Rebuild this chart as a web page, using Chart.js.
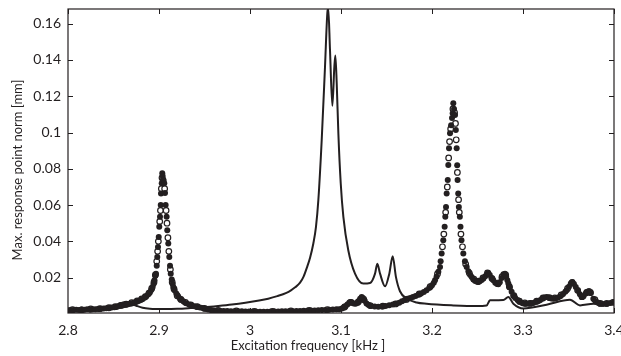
<!DOCTYPE html>
<html>
<head>
<meta charset="utf-8">
<script src="https://cdn.jsdelivr.net/npm/chart.js@4.4.1/dist/chart.umd.min.js"></script>
<style>
  html, body { margin: 0; padding: 0; background: #fff; }
  #wrap { width: 621px; height: 356px; }
</style>
</head>
<body>
<div id="wrap"><canvas id="c" width="621" height="356"></canvas></div>
<script>
// tick labels and axis titles
var xTicks = [2.8, 2.9, 3.0, 3.1, 3.2, 3.3, 3.4];
var yTicks = [0.02, 0.04, 0.06, 0.08, 0.1, 0.12, 0.14, 0.16];
var xTitle = 'Excitation frequency [kHz ]';
var yTitle = 'Max. response point norm [mm]';

// solid line
var lineX = [2.800, 2.815, 2.830, 2.840, 2.850, 2.857, 2.862, 2.868, 2.875, 2.882, 2.890, 2.905,
  2.920, 2.935, 2.950, 2.965, 2.980, 2.995, 3.010, 3.020, 3.030, 3.040, 3.045, 3.050, 3.055, 3.059,
  3.0625, 3.066, 3.0696, 3.0725, 3.0751, 3.0788, 3.0824, 3.0850, 3.0860, 3.0879, 3.0905, 3.0927, 3.0938, 3.0953,
  3.0971, 3.0997, 3.1026, 3.1080, 3.1154, 3.1245, 3.1319, 3.1374, 3.1399, 3.1429, 3.1484, 3.1531,
  3.1568, 3.1604, 3.1648, 3.1722, 3.1832, 3.1940, 3.2234, 3.2490, 3.2600, 3.2637, 3.2784, 3.2839,
  3.2894, 3.3004, 3.3260, 3.3516, 3.3626, 3.3773, 3.3919, 3.4000];
var lineY = [0.0015, 0.0020, 0.0026, 0.0033, 0.0045, 0.0058, 0.0064, 0.0058, 0.0045, 0.0034, 0.0029, 0.0027,
  0.0028, 0.0032, 0.0037, 0.0044, 0.0052, 0.0062, 0.0074, 0.0084, 0.0098, 0.0116, 0.0130, 0.0148, 0.0172, 0.0207,
  0.0255, 0.0310, 0.0388, 0.0480, 0.0627, 0.0959, 0.1360, 0.1660, 0.1685, 0.1456, 0.1147, 0.1364, 0.1425, 0.1270,
  0.0996, 0.0720, 0.0535, 0.0351, 0.0222, 0.0167, 0.0170, 0.0222, 0.0277, 0.0222, 0.0152, 0.0222,
  0.0318, 0.0203, 0.0125, 0.0085, 0.0063, 0.0056, 0.0047, 0.0043, 0.0046, 0.0075, 0.0076, 0.0093,
  0.0056, 0.0030, 0.0051, 0.0078, 0.0047, 0.0056, 0.0047, 0.0065];

// filled dot markers
var dotX = [2.800, 2.803, 2.806, 2.809, 2.812, 2.815, 2.818, 2.821, 2.824, 2.827, 2.830, 2.833, 2.836,
  2.839, 2.842, 2.845, 2.848, 2.851, 2.854, 2.857, 2.860, 2.862, 2.864, 2.866, 2.868, 2.870, 2.872,
  2.874, 2.876, 2.878, 2.880, 2.882, 2.884, 2.886, 2.888, 2.890, 2.8915, 2.893, 2.894, 2.895, 2.896,
  2.8967, 2.8975, 2.8981, 2.8989, 2.8997, 2.9003, 2.9011, 2.9019, 2.9022, 2.9030, 2.9036, 2.9040,
  2.9048, 2.9058, 2.9066, 2.9073, 2.9084, 2.9091, 2.9102, 2.9113, 2.9121, 2.9129, 2.9140, 2.9150,
  2.9157, 2.917, 2.919, 2.921, 2.923, 2.925, 2.927, 2.930, 2.933, 2.936, 2.939, 2.942, 2.945, 2.948,
  2.951, 2.954, 2.957, 2.960, 2.963, 2.967, 2.971, 2.975, 2.979, 2.983, 2.987, 2.991, 2.995, 2.999,
  3.003, 3.007, 3.011, 3.015, 3.019, 3.023, 3.027, 3.031, 3.035, 3.039, 3.043, 3.047, 3.051, 3.055,
  3.059, 3.063, 3.067, 3.071, 3.075, 3.079, 3.083, 3.087, 3.091, 3.095, 3.098, 3.101, 3.103, 3.105,
  3.107, 3.109, 3.110, 3.112, 3.114, 3.116, 3.118, 3.120, 3.121, 3.1227, 3.124, 3.126, 3.128, 3.130,
  3.133, 3.137, 3.141, 3.145, 3.149, 3.153, 3.157, 3.161, 3.164, 3.167, 3.170, 3.173, 3.176, 3.179,
  3.182, 3.185, 3.188, 3.191, 3.194, 3.197, 3.200, 3.202, 3.2033, 3.205, 3.207, 3.2088, 3.2095,
  3.2106, 3.2124, 3.2139, 3.2146, 3.2154, 3.2161, 3.2173, 3.2179, 3.2187, 3.2198, 3.2210, 3.2220,
  3.2227, 3.2234, 3.2242, 3.2253, 3.2262, 3.2271, 3.2277, 3.2281, 3.2288, 3.2295, 3.2306, 3.2313,
  3.2324, 3.2344, 3.2362, 3.2381, 3.2400, 3.2420, 3.2436, 3.2455, 3.2475, 3.2495, 3.2509, 3.2525,
  3.2545, 3.2564, 3.2585, 3.2605, 3.2619, 3.2635, 3.2655, 3.2674, 3.2695, 3.2715, 3.2729, 3.2745,
  3.2765, 3.2785, 3.2802, 3.2815, 3.2828, 3.2839, 3.2855, 3.2875, 3.2894, 3.2915, 3.2940, 3.2967,
  3.2995, 3.3020, 3.3040, 3.3065, 3.3090, 3.3113, 3.3140, 3.3165, 3.3187, 3.3210, 3.3235, 3.3260,
  3.3285, 3.3310, 3.3333, 3.3360, 3.3385, 3.3410, 3.3440, 3.3465, 3.3480, 3.3505, 3.3525, 3.3542,
  3.3560, 3.3580, 3.3605, 3.3625, 3.3645, 3.3665, 3.3690, 3.3710, 3.3725, 3.3745, 3.3773, 3.3800,
  3.3825, 3.3846, 3.3880, 3.3920, 3.3960, 3.4000];
var dotY = [0.0020, 0.0022, 0.0021, 0.0023, 0.0022, 0.0024, 0.0023, 0.0025, 0.0024, 0.0026, 0.0025, 0.0027, 0.0028,
  0.0030, 0.0031, 0.0033, 0.0035, 0.0037, 0.0040, 0.0043, 0.0047, 0.0049, 0.0051, 0.0053, 0.0056, 0.0058, 0.0061,
  0.0064, 0.0068, 0.0072, 0.0077, 0.0082, 0.0089, 0.0097, 0.0107, 0.0120, 0.0132, 0.0148, 0.0165, 0.0185, 0.0210,
  0.0222, 0.0265, 0.0314, 0.0369, 0.0424, 0.0480, 0.0535, 0.0600, 0.0664, 0.0720, 0.0775, 0.0760,
  0.0740, 0.0720, 0.0666, 0.0600, 0.0535, 0.0461, 0.0388, 0.0314, 0.0265, 0.0222, 0.0190, 0.0165,
  0.0148, 0.0130, 0.0112, 0.0096, 0.0085, 0.0076, 0.0068, 0.0059, 0.0052, 0.0046, 0.0042, 0.0039, 0.0036, 0.0032,
  0.0028, 0.0024, 0.0021, 0.0019, 0.0018, 0.0017, 0.0016, 0.0016, 0.0015, 0.0015, 0.0014, 0.0014, 0.0013, 0.0013,
  0.0013, 0.0012, 0.0012, 0.0012, 0.0012, 0.0013, 0.0013, 0.0013, 0.0014, 0.0014, 0.0015, 0.0015, 0.0016, 0.0016,
  0.0017, 0.0018, 0.0019, 0.0019, 0.0020, 0.0021, 0.0022, 0.0023, 0.0024, 0.0025, 0.0026, 0.0030, 0.0035, 0.0042,
  0.0052, 0.0062, 0.0066, 0.0063, 0.0058, 0.0056, 0.0060, 0.0072, 0.0083, 0.0093, 0.0088, 0.0072, 0.0058, 0.0050,
  0.0043, 0.0041, 0.0040, 0.0041, 0.0044, 0.0048, 0.0052, 0.0056, 0.0062, 0.0070, 0.0077, 0.0083, 0.0088, 0.0093,
  0.0099, 0.0106, 0.0113, 0.0121, 0.0130, 0.0143, 0.0158, 0.0172, 0.0185, 0.0205, 0.0232, 0.0259, 0.0290,
  0.0333, 0.0406, 0.0480, 0.0535, 0.0590, 0.0664, 0.0738, 0.0821, 0.0913, 0.0996, 0.1040, 0.1080,
  0.1106, 0.1162, 0.1130, 0.1097, 0.1014, 0.0913, 0.0820, 0.0738, 0.0664, 0.0590, 0.0535, 0.0480,
  0.0406, 0.0333, 0.0290, 0.0259, 0.0235, 0.0215, 0.0203, 0.0190, 0.0182, 0.0177, 0.0176, 0.0180,
  0.0187, 0.0195, 0.0208, 0.0220, 0.0225, 0.0215, 0.0198, 0.0185, 0.0172, 0.0165, 0.0163, 0.0175,
  0.0198, 0.0218, 0.0222, 0.0205, 0.0185, 0.0167, 0.0145, 0.0122, 0.0102, 0.0088, 0.0076, 0.0065,
  0.0059, 0.0056, 0.0056, 0.0057, 0.0059, 0.0060, 0.0065, 0.0070, 0.0075, 0.0083, 0.0090, 0.0093,
  0.0089, 0.0085, 0.0084, 0.0087, 0.0091, 0.0098, 0.0110, 0.0122, 0.0130, 0.0150, 0.0168, 0.0176,
  0.0165, 0.0148, 0.0128, 0.0108, 0.0093, 0.0098, 0.0112, 0.0122, 0.0126, 0.0115, 0.0084, 0.0070,
  0.0062, 0.0056, 0.0054, 0.0056, 0.0060, 0.0065];

// open circle markers
var ringX = [2.805, 2.815, 2.825, 2.835, 2.845, 2.852, 2.858, 2.864, 2.870, 2.876, 2.881, 2.885, 2.889,
  2.892, 2.8945, 2.8960, 2.8975, 2.8985, 2.8993, 2.9008, 2.9016, 2.9026, 2.9033, 2.9045, 2.9062, 2.9078,
  2.9088, 2.9098, 2.9108, 2.9125, 2.9145, 2.9165, 2.920, 2.924, 2.929, 2.935, 2.942, 2.950, 2.965, 2.985,
  3.005, 3.025, 3.045, 3.065, 3.085, 3.104, 3.111, 3.119, 3.125, 3.132, 3.146, 3.160, 3.172, 3.186, 3.198,
  3.206, 3.2115, 3.2130, 3.2150, 3.2168, 3.2183, 3.2193, 3.2205, 3.2230, 3.2248, 3.2258, 3.2266, 3.2279,
  3.2292, 3.2300, 3.2318, 3.2335, 3.2370, 3.2410, 3.2460, 3.2510, 3.2560, 3.2610, 3.2660, 3.2720, 3.2770,
  3.2810, 3.2850, 3.2900, 3.2960, 3.3020, 3.3080, 3.3150, 3.3220, 3.3290, 3.3350, 3.3420, 3.3490, 3.3540,
  3.3600, 3.3650, 3.3700, 3.3740, 3.3790, 3.3850, 3.3920, 3.3990];
var ringY = [0.0024, 0.0022, 0.0027, 0.0029, 0.0034, 0.0040, 0.0047, 0.0054, 0.0062, 0.0072, 0.0083, 0.0095, 0.0115,
  0.0140, 0.0175, 0.0215, 0.0290, 0.0345, 0.0400, 0.0510, 0.0570, 0.0690, 0.0750, 0.0735, 0.0690, 0.0570,
  0.0500, 0.0420, 0.0345, 0.0245, 0.0175, 0.0138, 0.0100, 0.0080, 0.0064, 0.0050, 0.0040, 0.0030, 0.0019, 0.0016,
  0.0014, 0.0014, 0.0016, 0.0019, 0.0024, 0.0038, 0.0064, 0.0066, 0.0080, 0.0046, 0.0043, 0.0055, 0.0080, 0.0110, 0.0150,
  0.0220, 0.0370, 0.0440, 0.0560, 0.0700, 0.0860, 0.0950, 0.1020, 0.1130, 0.1110, 0.1050, 0.0960, 0.0780,
  0.0630, 0.0560, 0.0440, 0.0370, 0.0275, 0.0225, 0.0192, 0.0180, 0.0198, 0.0226, 0.0195, 0.0170, 0.0205,
  0.0215, 0.0150, 0.0100, 0.0070, 0.0060, 0.0058, 0.0070, 0.0088, 0.0090, 0.0088, 0.0105, 0.0140, 0.0172,
  0.0130, 0.0095, 0.0118, 0.0118, 0.0078, 0.0058, 0.0058, 0.0064];

var ink = '#231f20';
var face = 'Lato';

function pts(xs, ys) {
  return xs.map(function (x, i) { return { x: x, y: ys[i] }; });
}

function fmt(v) {
  return String(Number(v.toFixed(2)));
}

function noPad(s) {
  s.paddingLeft = 0; s.paddingRight = 0; s.paddingTop = 0; s.paddingBottom = 0;
}

// MATLAB style box, inward ticks and the axis titles
var boxPlugin = {
  id: 'box',
  afterDraw: function (chart) {
    var ctx = chart.ctx, a = chart.chartArea;
    var sx = chart.scales.x, sy = chart.scales.y;
    var len = 5;
    ctx.save();
    ctx.strokeStyle = ink;
    ctx.lineWidth = 1;
    ctx.beginPath();
    xTicks.forEach(function (t) {
      var px = Math.round(sx.getPixelForValue(t)) + 0.5;
      ctx.moveTo(px, a.bottom); ctx.lineTo(px, a.bottom - len);
      ctx.moveTo(px, a.top); ctx.lineTo(px, a.top + len);
    });
    yTicks.forEach(function (t) {
      var py = Math.round(sy.getPixelForValue(t)) + 0.5;
      ctx.moveTo(a.left, py); ctx.lineTo(a.left + len, py);
      ctx.moveTo(a.right, py); ctx.lineTo(a.right - len, py);
    });
    ctx.stroke();
    ctx.lineWidth = 1.2;
    ctx.strokeRect(a.left, a.top, a.right - a.left, a.bottom - a.top);

    ctx.fillStyle = ink;
    ctx.font = '13px ' + face;
    ctx.textAlign = 'center';
    ctx.textBaseline = 'middle';
    ctx.fillText(xTitle, 308, 346);
    ctx.translate(18, 170);
    ctx.rotate(-Math.PI / 2);
    ctx.fillText(yTitle, 0, 0);
    ctx.restore();
  }
};

new Chart(document.getElementById('c'), {
  type: 'scatter',
  data: {
    datasets: [
      {
        label: 'response',
        data: pts(lineX, lineY),
        showLine: true,
        cubicInterpolationMode: 'monotone',
        borderColor: ink,
        borderWidth: 2,
        pointRadius: 0,
        order: 1
      },
      {
        label: 'dots',
        data: pts(dotX, dotY),
        showLine: false,
        pointRadius: 3,
        pointBackgroundColor: ink,
        pointBorderColor: ink,
        pointBorderWidth: 0,
        order: 2
      },
      {
        label: 'rings',
        data: pts(ringX, ringY),
        showLine: false,
        pointRadius: 2.8,
        pointBackgroundColor: '#ffffff',
        pointBorderColor: ink,
        pointBorderWidth: 1.2,
        order: 3
      }
    ]
  },
  options: {
    responsive: false,
    animation: false,
    events: [],
    layout: { padding: { top: 9, right: 7, left: 0, bottom: 0 } },
    plugins: { legend: { display: false }, tooltip: { enabled: false } },
    scales: {
      x: {
        type: 'linear',
        min: 2.8,
        max: 3.4,
        afterBuildTicks: function (s) { s.ticks = xTicks.map(function (v) { return { value: v }; }); },
        afterFit: function (s) { s.height = 43; noPad(s); },
        grid: { display: false, drawTicks: false },
        border: { display: false },
        ticks: { color: ink, padding: 9, font: { family: face, size: 14 }, callback: fmt, maxRotation: 0 },
        title: { display: false }
      },
      y: {
        type: 'linear',
        min: 0.0005,
        max: 0.1681,
        afterBuildTicks: function (s) { s.ticks = yTicks.map(function (v) { return { value: v }; }); },
        afterFit: function (s) { s.width = 68; noPad(s); },
        grid: { display: false, drawTicks: false },
        border: { display: false },
        ticks: { color: ink, padding: 7, font: { family: face, size: 14 }, callback: fmt },
        title: { display: false }
      }
    }
  },
  plugins: [boxPlugin]
});
</script>
</body>
</html>
